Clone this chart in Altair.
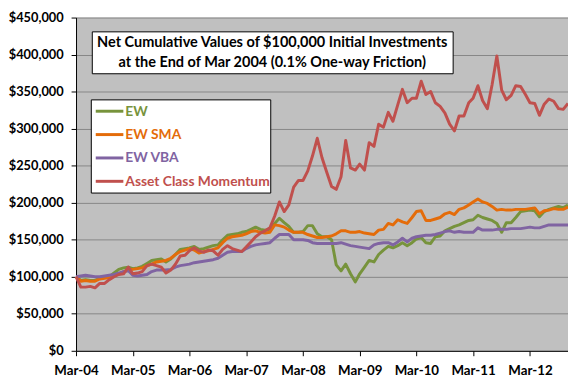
import altair as alt
import pandas as pd

# Monthly values (thousands of $), Mar-2004 .. Nov-2012
dates = pd.date_range("2004-03-01", periods=105, freq="MS").strftime("%Y-%m-%d").tolist()

ew = [100, 95, 96, 95, 95, 98, 99, 100, 105, 110,
      112, 113, 111, 112, 114, 118, 122, 123, 124, 120,
      124, 130, 137, 138, 139, 141, 137, 138, 140, 142,
      143, 150, 156, 157, 158, 160, 161, 164, 167, 164,
      163, 164, 172, 179, 173, 168, 160, 160, 161, 169,
      169, 158, 154, 154, 150, 116, 108, 117, 104, 93,
      104, 113, 122, 120, 130, 136, 141, 139, 142, 146,
      142, 146, 151, 153, 146, 145, 154, 155, 162, 165,
      168, 170, 173, 176, 177, 183, 180, 178, 176, 172,
      160, 173, 173, 180, 188, 189, 190, 189, 181, 188,
      191, 193, 195, 193, 197]

ew_sma = [100, 94, 95, 94, 94, 97, 98, 99, 101, 104,
          107, 109, 110, 111, 112, 115, 117, 120, 121, 122,
          125, 130, 134, 136, 138, 136, 132, 134, 135, 137,
          139, 146, 152, 154, 155, 156, 158, 161, 162, 160,
          159, 160, 170, 169, 167, 163, 160, 160, 160, 157,
          155, 153, 153, 154, 155, 158, 162, 162, 160, 160,
          161, 159, 158, 157, 163, 164, 172, 170, 177, 174,
          172, 180, 188, 189, 176, 176, 178, 180, 185, 187,
          184, 191, 193, 197, 201, 205, 201, 199, 195, 190,
          191, 190, 190, 191, 191, 191, 192, 193, 185, 189,
          190, 192, 191, 191, 194]

ew_vba = [100, 101, 102, 101, 100, 100, 101, 102, 103, 105,
          107, 108, 102, 101, 102, 103, 107, 109, 109, 109,
          110, 113, 115, 116, 117, 119, 120, 121, 122, 123,
          125, 129, 133, 134, 134, 134, 138, 141, 143, 144,
          145, 146, 152, 157, 157, 157, 150, 150, 150, 149,
          146, 145, 145, 145, 145, 145, 146, 144, 142, 141,
          140, 139, 138, 143, 145, 146, 146, 143, 147, 152,
          147, 152, 154, 155, 156, 156, 157, 159, 161, 162,
          160, 161, 160, 160, 160, 166, 163, 163, 163, 164,
          164, 164, 165, 165, 165, 166, 167, 166, 166, 168,
          170, 170, 170, 170, 170]

acm = [100, 86, 86, 87, 85, 91, 91, 96, 100, 103,
       104, 113, 104, 105, 107, 115, 117, 115, 113, 105,
       109, 117, 128, 129, 135, 139, 135, 133, 136, 135,
       129, 137, 142, 138, 136, 134, 140, 147, 154, 159,
       162, 166, 182, 201, 188, 197, 221, 230, 230, 243,
       263, 287, 261, 241, 222, 218, 235, 284, 247, 244,
       252, 244, 281, 276, 306, 302, 322, 310, 332, 353,
       335, 341, 341, 364, 346, 350, 335, 330, 321, 306,
       297, 317, 317, 335, 341, 358, 338, 327, 359, 398,
       352, 339, 345, 358, 357, 346, 335, 334, 318, 333,
       340, 337, 327, 326, 334]

names = ["EW", "EW SMA", "EW VBA", "Asset Class Momentum"]
colors = ["#77933C", "#E46C0A", "#8064A2", "#C0504D"]
series = [ew, ew_sma, ew_vba, acm]
y_ticks = [0, 50000, 100000, 150000, 200000, 250000, 300000, 350000, 400000, 450000]
title_lines = ["Net Cumulative Values of $100,000 Initial Investments",
               "at the End of Mar 2004 (0.1% One-way Friction)"]

FONT = "Lato"
W, H = 499, 338

x_enc = alt.X("date:T",
              scale=alt.Scale(type="utc",
                              domain=[alt.DateTime(year=2004, month=3, date=1, utc=True),
                                      alt.DateTime(year=2012, month=11, date=1, utc=True)]),
              axis=alt.Axis(values=[alt.DateTime(year=y, month=3, date=1, utc=True) for y in range(2004, 2013)],
                            format="%b-%y", grid=False, title=None,
                            domainColor="black", tickColor="black", tickSize=5,
                            labelFont=FONT, labelFontWeight="bold", labelFontSize=13.5,
                            labelColor="black", labelPadding=8,
                            labelOverlap=False, labelFlush=False))
y_enc = alt.Y("value:Q",
              scale=alt.Scale(domain=[0, 450000], nice=False),
              axis=alt.Axis(values=y_ticks, format="$,.0f", grid=True, gridColor="#868686",
                            gridWidth=1, title=None, domainColor="black", tickColor="black",
                            tickSize=5, labelFont=FONT, labelFontWeight="bold", labelFontSize=13,
                            labelColor="black", labelPadding=8,
                            labelOverlap=False, labelFlush=False))

layers = []
for name, col, vals in zip(names, colors, series):
    df = pd.DataFrame({"date": dates, "value": [v * 1000 for v in vals]})
    layers.append(alt.Chart(df).mark_line(strokeWidth=3, color=col, strokeJoin="round").encode(x=x_enc, y=y_enc))

one = pd.DataFrame({"a": [0]})

# title box
layers.append(alt.Chart(one).mark_rect(fill="white", stroke="black", strokeWidth=1).encode(
    x=alt.value(16.5), x2=alt.value(382.5), y=alt.value(14.5), y2=alt.value(57)))
for i, line in enumerate(title_lines):
    layers.append(alt.Chart(one).mark_text(font=FONT, fontWeight="bold", fontSize=14.7, color="black",
                                           align="center", baseline="middle").encode(
        x=alt.value(199), y=alt.value(26 + 20 * i), text=alt.value(line)))

# legend box
layers.append(alt.Chart(one).mark_rect(fill="white", stroke="black", strokeWidth=1).encode(
    x=alt.value(15.5), x2=alt.value(197.5), y=alt.value(83.5), y2=alt.value(178)))
for i, (name, col) in enumerate(zip(names, colors)):
    yy = 95 + 23.7 * i
    layers.append(alt.Chart(one).mark_rule(color=col, strokeWidth=3).encode(
        x=alt.value(20), x2=alt.value(48), y=alt.value(yy)))
    layers.append(alt.Chart(one).mark_text(font=FONT, fontWeight="bold", fontSize=14, color=col,
                                           align="left", baseline="middle").encode(
        x=alt.value(50), y=alt.value(yy + 0.5), text=alt.value(name)))

chart = alt.layer(*layers).properties(
    width=W, height=H,
    autosize=alt.AutoSizeParams(type="none"),
    padding={"left": 69, "top": 7, "right": 0, "bottom": 32},
    background="white",
).configure_view(fill="#C0C0C0", stroke=None)

chart.save("out.html", embed_options={"renderer": "svg", "actions": False})
